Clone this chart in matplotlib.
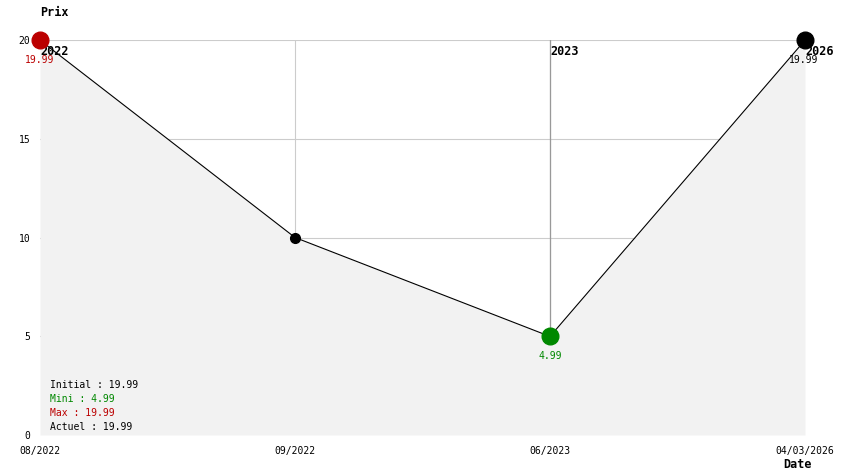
import matplotlib
matplotlib.use("Agg")
import matplotlib.pyplot as plt

# données du graphique
dates = ["08/2022", "09/2022", "06/2023", "04/03/2026"]
prix = [19.99, 10.0, 4.99, 19.99]
annees = ["2022", "2023", "2026"]
annee_idx = [0, 2, 3]
y_ticks = [0, 5, 10, 15, 20]
legende = [("Initial : 19.99", "black"), ("Mini : 4.99", "#008800"),
           ("Max : 19.99", "#bb0000"), ("Actuel : 19.99", "black")]

plt.rcParams['font.family'] = ['DejaVu Sans Mono']

W, H = 844, 474
fig = plt.figure(figsize=(W / 100, H / 100), dpi=100)
ax = fig.add_axes([40 / W, (H - 435) / H, (805 - 40) / W, (435 - 40) / H])

x = list(range(len(prix)))
ax.set_xlim(0, 3)
ax.set_ylim(0, 20)

# grille (sous le remplissage)
for v in y_ticks[1:]:
    ax.axhline(v, color="#cccccc", lw=0.8, zorder=0)
for i in x[1:3]:
    ax.axvline(i, color="#cccccc", lw=0.8, zorder=0)
# séparateurs d'années (sauf les bords)
for i in annee_idx:
    if 0 < i < 3:
        ax.axvline(i, color="#999999", lw=0.9, zorder=0.5)

ax.fill_between(x, 0, prix, color="#f2f2f2", zorder=1, lw=0)
ax.plot(x, prix, color="black", lw=0.8, zorder=2)

# années
for i, a in zip(annee_idx, annees):
    ax.annotate(a, (i, 20), xytext=(0.5, -8), textcoords="offset points", ha="left",
                va="center", fontsize=8.5, fontweight="bold", zorder=2.5,
                annotation_clip=False)

# marqueurs
ax.plot(x[1], prix[1], "o", color="black", ms=7, zorder=3, clip_on=False)
ax.plot(x[0], prix[0], "o", color="#bb0000", ms=12, zorder=3, clip_on=False)
ax.plot(x[2], prix[2], "o", color="#008800", ms=12, zorder=3, clip_on=False)
ax.plot(x[3], prix[3], "o", color="black", ms=12, zorder=3, clip_on=False)

# étiquettes des valeurs
ax.annotate(f"{prix[0]:.2f}", (x[0], prix[0]), xytext=(0, -14), textcoords="offset points",
            ha="center", va="center", fontsize=7, color="#bb0000", zorder=4)
ax.annotate(f"{prix[2]:.2f}", (x[2], prix[2]), xytext=(0, -14), textcoords="offset points",
            ha="center", va="center", fontsize=7, color="#008800", zorder=4)
ax.annotate(f"{prix[3]:.2f}", (x[3], prix[3]), xytext=(-1, -14), textcoords="offset points",
            ha="center", va="center", fontsize=7, color="black", zorder=4)

# légende
for k, (txt, c) in enumerate(legende):
    fig.text(50 / W, 1 - (385 + 14 * k) / H, txt, fontsize=7, color=c, va="center", ha="left")

ax.set_yticks(y_ticks)
ax.set_xticks(x)
ax.set_xticklabels(dates)
ax.tick_params(length=0, labelsize=7)
ax.tick_params(axis="y", pad=7)
ax.tick_params(axis="x", pad=8)
for s in ax.spines.values():
    s.set_visible(False)

fig.text(40 / W, 1 - 12 / H, "Prix", fontsize=8.5, fontweight="bold", va="center", ha="left")
fig.text(783 / W, 1 - 465 / H, "Date", fontsize=8.5, fontweight="bold", va="center", ha="left")

fig.savefig("out.png", dpi=100)
